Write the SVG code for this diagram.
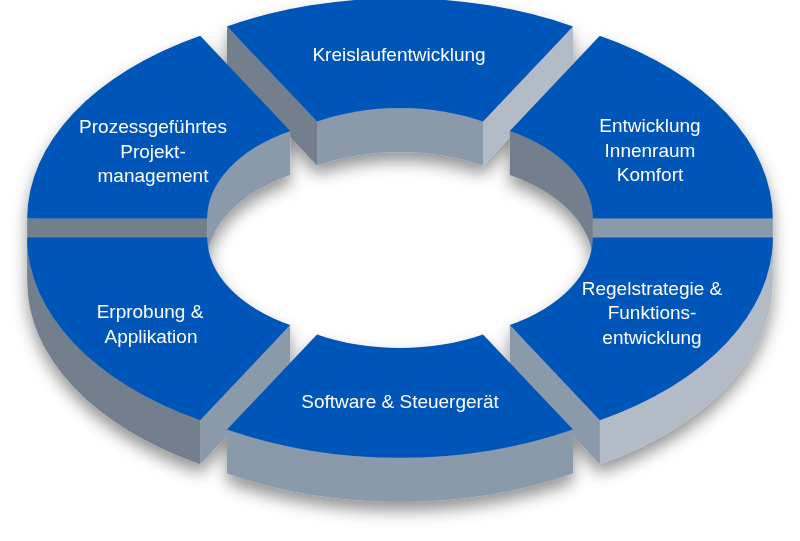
<svg xmlns="http://www.w3.org/2000/svg" width="800" height="541" viewBox="0 0 800 541">
  <defs>
    <filter id="shadow" x="-10%" y="-15%" width="120%" height="140%">
      <feDropShadow dx="0" dy="9" stdDeviation="8" flood-color="#000" flood-opacity="0.42"/>
    </filter>
    <style>
      .top { fill: #0056b8; }
      .dark { fill: #737f8d; }
      .mid { fill: #8a9aab; }
      .light { fill: #b3bcc6; }
      .label { font-family: "Liberation Sans", Arial, sans-serif; font-size: 19px; fill: #ffffff; text-anchor: middle; }
    </style>
  </defs>
  <rect width="800" height="541" fill="#ffffff"/>
  <g id="ring" filter="url(#shadow)">
    <g id="kreislaufentwicklung">
      <path class="dark" d="M227,26.4 L317,121.6 L317,165.6 L227,70.4 Z"/>
      <path class="light" d="M573,26.4 L483,121.6 L483,165.6 L573,70.4 Z"/>
      <path class="mid" d="M317,121.6 A166 101 0 0 1 483,121.6 L483,165.6 A166 101 0 0 0 317,165.6 Z"/>
      <path class="top" d="M227,26.4 A346 211 0 0 1 573,26.4 L483,121.6 A166 101 0 0 0 317,121.6 Z"/>
      <text class="label" x="399" y="61">Kreislaufentwicklung</text>
    </g>
    <g id="projektmanagement">
      <path class="dark" d="M27.2,218.5 L207.2,218.5 L207.2,262.5 L27.2,262.5 Z"/>
      <path class="mid" d="M290.2,131 A166 101 0 0 0 207.2,218.5 L207.2,262.5 A166 101 0 0 1 290.2,175 Z"/>
      <path class="top" d="M200.2,35.8 A346 211 0 0 0 27.2,218.5 L207.2,218.5 A166 101 0 0 1 290.2,131 Z"/>
      <text class="label" x="153" y="133">Prozessgeführtes</text>
      <text class="label" x="153" y="158">Projekt-</text>
      <text class="label" x="153" y="182">management</text>
    </g>
    <g id="innenraum">
      <path class="mid" d="M592.8,218.5 L772.8,218.5 L772.8,262.5 L592.8,262.5 Z"/>
      <path class="dark" d="M509.8,131 A166 101 0 0 1 592.8,218.5 L592.8,262.5 A166 101 0 0 0 509.8,175 Z"/>
      <path class="top" d="M599.8,35.8 A346 211 0 0 1 772.8,218.5 L592.8,218.5 A166 101 0 0 0 509.8,131 Z"/>
      <text class="label" x="650" y="132">Entwicklung</text>
      <text class="label" x="650" y="157">Innenraum</text>
      <text class="label" x="650" y="181">Komfort</text>
    </g>
    <g id="erprobung">
      <path class="dark" d="M27.2,237.5 A346 211 0 0 0 200.2,420.2 L200.2,464.2 A346 211 0 0 1 27.2,281.5 Z"/>
      <path class="mid" d="M290.2,325 L200.2,420.2 L200.2,464.2 L290.2,369 Z"/>
      <path class="top" d="M27.2,237.5 A346 211 0 0 0 200.2,420.2 L290.2,325 A166 101 0 0 1 207.2,237.5 Z"/>
      <text class="label" x="150" y="318">Erprobung &amp;</text>
      <text class="label" x="151" y="343">Applikation</text>
    </g>
    <g id="regelstrategie">
      <path class="light" d="M772.8,237.5 A346 211 0 0 1 599.8,420.2 L599.8,464.2 A346 211 0 0 0 772.8,281.5 Z"/>
      <path class="mid" d="M509.8,325 L599.8,420.2 L599.8,464.2 L509.8,369 Z"/>
      <path class="top" d="M772.8,237.5 A346 211 0 0 1 599.8,420.2 L509.8,325 A166 101 0 0 0 592.8,237.5 Z"/>
      <text class="label" x="652" y="295">Regelstrategie &amp;</text>
      <text class="label" x="652" y="319">Funktions-</text>
      <text class="label" x="652" y="344">entwicklung</text>
    </g>
    <g id="software">
      <path class="mid" d="M227,429.6 A346 211 0 0 0 573,429.6 L573,473.6 A346 211 0 0 1 227,473.6 Z"/>
      <path class="top" d="M227,429.6 A346 211 0 0 0 573,429.6 L483,334.4 A166 101 0 0 1 317,334.4 Z"/>
      <text class="label" x="400" y="408">Software &amp; Steuergerät</text>
    </g>
  </g>
  <g id="connectors"/>
</svg>
